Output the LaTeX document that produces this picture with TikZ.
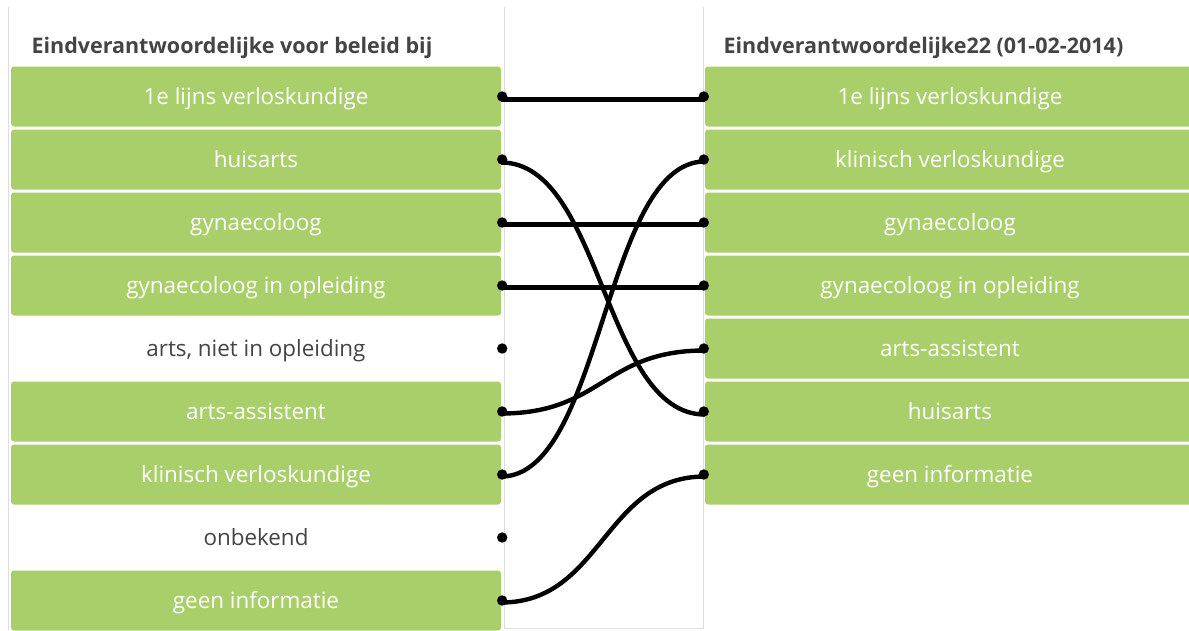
\documentclass[tikz,border=0pt]{standalone}
\usepackage{fontspec}
\setmainfont{Open Sans}
\usepackage{tikz}
\usetikzlibrary{positioning,chains}
\definecolor{boxgreen}{RGB}{168,207,106}
\definecolor{framegray}{RGB}{221,221,221}
\definecolor{textgray}{RGB}{68,68,68}

\begin{document}
\begin{tikzpicture}[x=1pt, y=-1pt, node distance=2.6pt,
	cell/.style={on chain, minimum width=490pt, minimum height=60pt, inner sep=0pt, text height=16pt, text depth=0pt, font=\fontsize{22.4}{26}\selectfont, text=textgray},
	filled/.style={cell, fill=boxgreen, rounded corners=3pt, text=white},
	head/.style={anchor=base west, font=\fontsize{21.5}{25}\selectfont\bfseries, text=textgray},
	link/.style={line width=4.4pt},
	curve/.style={to path={.. controls +(101,0) and +(-101,0) .. (\tikztotarget)}}]

	\useasboundingbox (0,0) rectangle (1189,630);

	% frames
	\draw[framegray] (8,7) -- (8,630);
	\draw[framegray] (504,7) -- (504,628) -- (703,628) -- (703,7);

	\node (lhead) [head] at (28,53) {Eindverantwoordelijke voor beleid bij};
	\node (rhead) [head] at (720,53) {Eindverantwoordelijke22 (01-02-2014)};

	% left column
	\begin{scope}[start chain=lc going below]
		\node (l1) [filled] at (256,96.5) {1e lijns verloskundige};
		\node (l2) [filled] {huisarts};
		\node (l3) [filled] {gynaecoloog};
		\node (l4) [filled] {gynaecoloog in opleiding};
		\node (l5) [cell] {arts, niet in opleiding};
		\node (l6) [filled] {arts-assistent};
		\node (l7) [filled] {klinisch verloskundige};
		\node (l8) [cell] {onbekend};
		\node (l9) [filled] {geen informatie};
	\end{scope}

	% right column, cut off by the page edge
	\begin{scope}[start chain=rc going below]
		\node (r1) [filled] at (950,96.5) {1e lijns verloskundige};
		\node (r2) [filled] {klinisch verloskundige};
		\node (r3) [filled] {gynaecoloog};
		\node (r4) [filled] {gynaecoloog in opleiding};
		\node (r5) [filled] {arts-assistent};
		\node (r6) [filled] {huisarts};
		\node (r7) [filled] {geen informatie};
	\end{scope}

	\draw[link] ([yshift=-3pt]l1.east) -- ([yshift=-3pt]r1.west);
	\draw[link] ([yshift=-3pt]l2.east) to[curve] ([yshift=-3pt]r6.west);
	\draw[link] ([yshift=-2pt]l3.east) -- ([yshift=-2pt]r3.west);
	\draw[link] ([yshift=-2pt]l4.east) -- ([yshift=-2pt]r4.west);
	\draw[link] ([yshift=-2pt]l6.east) to[curve] ([yshift=-2pt]r5.west);
	\draw[link] ([yshift=-2pt]l7.east) to[curve] ([yshift=-2pt]r2.west);
	\draw[link] ([yshift=-2pt]l9.east) to[curve] ([yshift=-2pt]r7.west);

	\foreach \n in {l1,l2,l3,l4,l5,l6,l7,l8,l9}
		\fill ([xshift=1pt]\n.east) circle (5.2pt);
	\foreach \n in {r1,r2,r3,r4,r5,r6,r7}
		\fill ([xshift=-1pt]\n.west) circle (5.2pt);
\end{tikzpicture}
\end{document}
